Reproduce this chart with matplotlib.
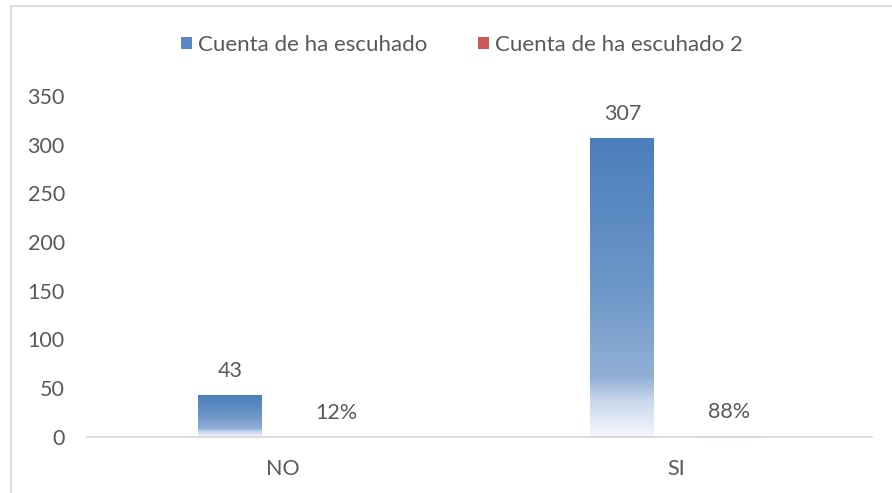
import numpy as np
import matplotlib
matplotlib.use("Agg")
import matplotlib.pyplot as plt
from matplotlib.colors import LinearSegmentedColormap
from matplotlib.patches import Patch
from matplotlib.lines import Line2D

categories = ["NO", "SI"]
series1_name = "Cuenta de ha escuhado"
series2_name = "Cuenta de ha escuhado 2"
series1_values = [43, 307]
series2_values = [0.12, 0.88]
yticks = [0, 50, 100, 150, 200, 250, 300, 350]

plt.rcParams['font.family'] = ['Lato', 'DejaVu Sans']
TXT = "#595959"
FS = 15.5
LFS = 16.0

W, H = 892, 493
fig = plt.figure(figsize=(W / 100, H / 100), dpi=100)
ax = fig.add_axes([87 / W, (H - 436.7) / H, (872 - 87) / W, (436.7 - 96) / H])

blue_cmap = LinearSegmentedColormap.from_list(
    "b", [(0.0, "#4A7EBB"), (0.5, "#6D97C8"), (0.80, "#92B0D6"), (0.88, "#C9D8EC"), (1.0, "#F4F7FC")])
red_cmap = LinearSegmentedColormap.from_list(
    "r", [(0.0, "#BE4B48"), (0.80, "#D88F8D"), (1.0, "#F9ECEC")])

x = np.arange(len(categories))
bw = 0.163
off = 0.136

def gradient_bars(xpos, vals, cmap):
    bars = ax.bar(xpos, vals, width=bw, color="none", edgecolor="none")
    grad = np.linspace(0, 1, 256).reshape(-1, 1)
    for b in bars:
        x0, y0 = b.get_x(), b.get_y()
        w, h = b.get_width(), b.get_height()
        im = ax.imshow(grad, cmap=cmap, aspect="auto", origin="upper",
                       extent=[x0, x0 + w, y0, y0 + h], zorder=2)
        im.set_clip_path(b)
    return bars

b1 = gradient_bars(x - off, series1_values, blue_cmap)
b2 = gradient_bars(x + off, series2_values, red_cmap)

for xi, v in zip(x - off, series1_values):
    ax.annotate(f"{v}", (xi, v), xytext=(0, 17.3), textcoords="offset points",
                ha="center", va="center", color=TXT, fontsize=FS)
for xi, v in zip(x + off, series2_values):
    ax.annotate(f"{v:.0%}", (xi, v), xytext=(0, 17.3), textcoords="offset points",
                ha="center", va="center", color=TXT, fontsize=FS)

ax.set_xlim(-0.5, 1.5)
ax.set_ylim(0, 350)
ax.set_yticks(yticks)
ax.set_xticks(x)
ax.set_xticklabels(categories)
ax.tick_params(axis="both", length=0, colors=TXT, labelsize=FS)
ax.tick_params(axis="y", pad=16)
ax.tick_params(axis="x", pad=16)
for s in ["top", "right", "left"]:
    ax.spines[s].set_visible(False)
ax.spines["bottom"].set_color("#D9D9D9")
ax.spines["bottom"].set_linewidth(1.3)
ax.set_facecolor("none")

# chart border (cropped)
fig.add_artist(Line2D([11 / W, 11 / W], [0, 1 - 6 / H], transform=fig.transFigure, color="#D9D9D9", lw=1.3))
fig.add_artist(Line2D([11 / W, 1], [1 - 6 / H, 1 - 6 / H], transform=fig.transFigure, color="#D9D9D9", lw=1.3))

handles = [Patch(facecolor="#5A88C2", edgecolor="none"), Patch(facecolor="#C85A57", edgecolor="none")]
fig.legend(handles, [series1_name, series2_name], loc="center", ncol=2,
           bbox_to_anchor=(462 / W, 1 - 45 / H), frameon=False, fontsize=LFS,
           labelcolor=TXT, handlelength=0.5, handleheight=0.5,
           handletextpad=0.27, columnspacing=2.3)

fig.savefig("out.png", dpi=100)
